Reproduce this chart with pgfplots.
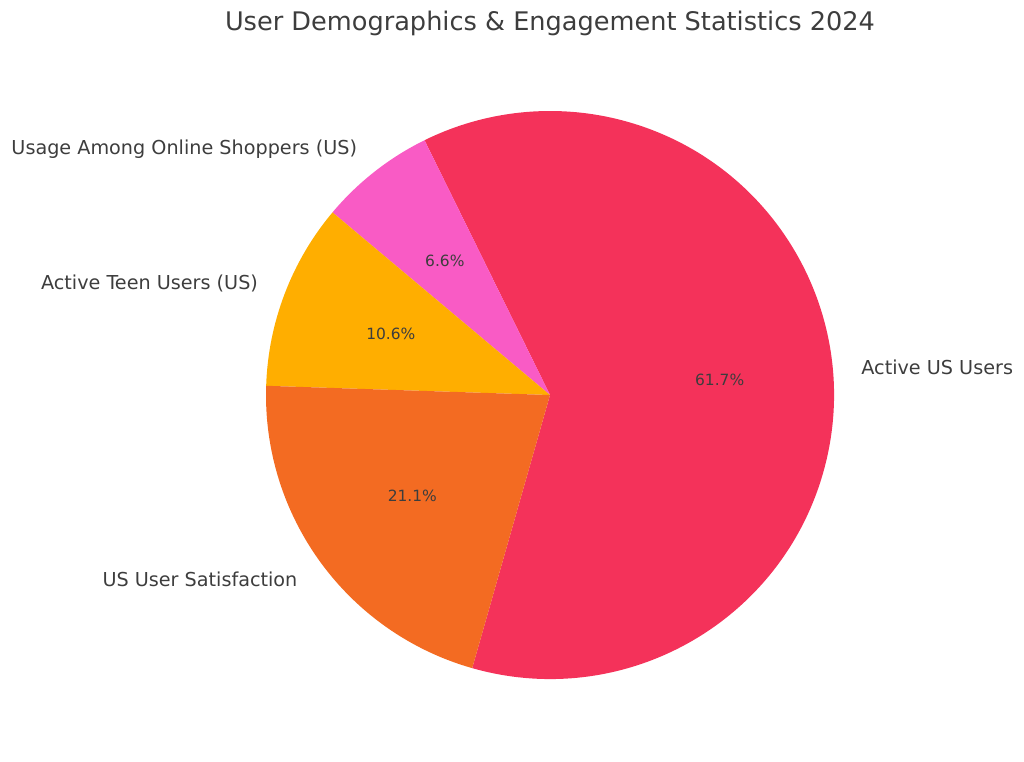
\documentclass[border=0pt]{standalone}
\usepackage{pgfplots}
\pgfplotsset{compat=1.18}
\usetikzlibrary{calc}
\usepackage{fontspec}
\setmainfont{DejaVu Sans}
\definecolor{txt}{HTML}{3D3D3D}
\definecolor{cred}{HTML}{F4325A}
\definecolor{cpink}{HTML}{F95BC5}
\definecolor{cyell}{HTML}{FFAE00}
\definecolor{coran}{HTML}{F36B22}

\begin{document}
\begin{tikzpicture}
\begin{axis}[
    scale only axis, width=768pt, height=570.75pt,
    xmin=0, xmax=1024, ymin=0, ymax=761,
    hide axis, clip=false,
]
\path (axis cs:0,0) rectangle (axis cs:1024,761);
\coordinate (c) at (axis cs:550,366);
\node[text=txt, font=\fontsize{19.2}{23}\selectfont] at (axis cs:550,738)
    {User Demographics \& Engagement Statistics 2024};
\end{axis}
% pie slices, counter-clockwise from the start angle
\def\R{213}
\foreach \v/\col/\lab [remember=\e as \s (initially 254.1)] in {
    61.7/cred/Active US Users,
    6.6/cpink/Usage Among Online Shoppers (US),
    10.6/cyell/Active Teen Users (US),
    21.1/coran/US User Satisfaction} {
  \pgfmathsetmacro\e{\s+3.6*\v}
  \pgfmathsetmacro\m{(\s+\e)/2}
  \pgfmathsetmacro\cx{cos(\m)}
  \fill[\col] (c) -- ++(\s:\R pt) arc[start angle=\s, end angle=\e, radius=\R pt] -- cycle;
  \node[text=txt, font=\fontsize{11.6}{14}\selectfont] at ($(c)+(\m:0.6*\R pt)$) {\v\%};
  \ifdim\cx pt>0pt
    \node[text=txt, anchor=west, inner sep=0pt, font=\fontsize{14.4}{17}\selectfont] at ($(c)+(\m:1.1*\R pt)$) {\lab};
  \else
    \node[text=txt, anchor=east, inner sep=0pt, font=\fontsize{14.4}{17}\selectfont] at ($(c)+(\m:1.1*\R pt)$) {\lab};
  \fi
}
\end{tikzpicture}
\end{document}
